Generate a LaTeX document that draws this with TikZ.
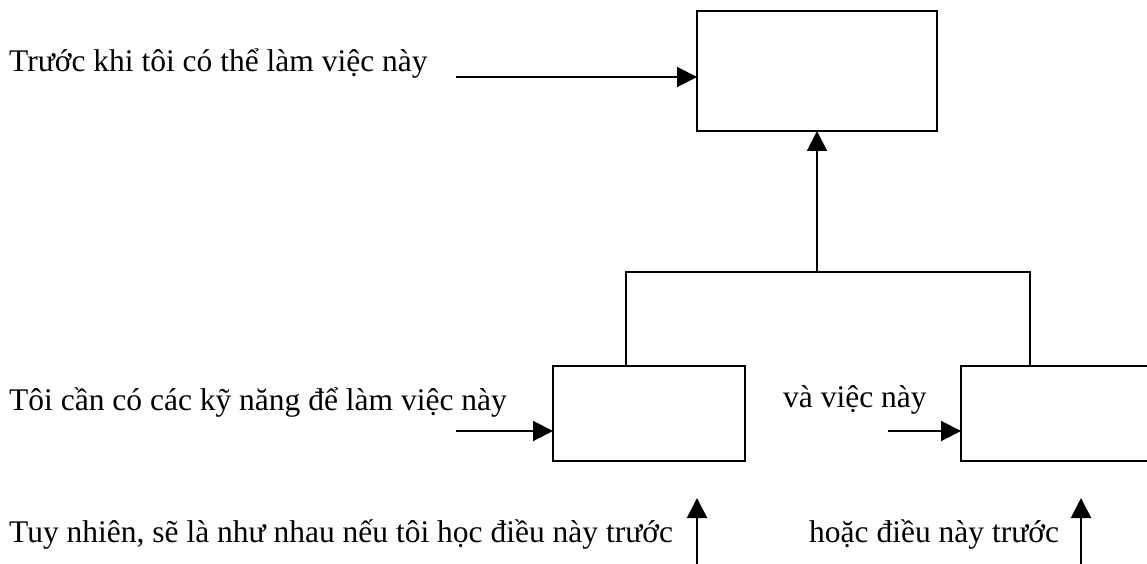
\documentclass[tikz,border=0pt]{standalone}
\usepackage{fontspec}
\setmainfont{Liberation Serif}
\usetikzlibrary{arrows.meta}
\begin{document}
\begin{tikzpicture}[x=1pt,y=-1pt,
  box/.style={draw, line width=2pt, inner sep=0pt, outer sep=0pt, anchor=north west},
  smallbox/.style={box, minimum width=192pt, minimum height=95pt},
  lbl/.style={anchor=base west, inner sep=0pt, font=\fontsize{31.5}{36}\selectfont},
  conn/.style={line width=2pt},
  arr/.style={conn, -{Triangle[length=20pt,width=20pt]}}]
\useasboundingbox (0,0) rectangle (1147,564);
\clip (0,0) rectangle (1147,564);

% boxes
\node[box, minimum width=240pt, minimum height=120pt] (top) at (697,11) {};
\node[smallbox] (left) at (553,366) {};
\node[smallbox] (right) at (961,366) {};

% texts
\node[lbl] (t1) at (9,72) {Trước khi tôi có thể làm việc này};
\node[lbl] (t2) at (9,410) {Tôi cần có các kỹ năng để làm việc này};
\node[lbl] (t3) at (783,407) {và việc này};
\node[lbl] (t4) at (9,542) {Tuy nhiên, sẽ là như nhau nếu tôi học điều này trước};
\node[lbl] (t5) at (809,542) {hoặc điều này trước};

% free ends of the arrows
\coordinate (a1) at (456,77);
\coordinate (a2) at (456,431);
\coordinate (a3) at (888,431);
\coordinate (b1) at (697,564);
\coordinate (b1t) at (697,498);
\coordinate (b2) at (1081,564);
\coordinate (b2t) at (1081,498);

% junction of the two lower boxes
\coordinate (j) at (817,272);
\coordinate (jl) at (626,272);
\coordinate (jr) at (1030,272);

\draw[arr] (a1) -- (a1 -| top.west);
\draw[arr] (a2) -- (a2 -| left.west);
\draw[arr] (a3) -- (a3 -| right.west);
\draw[arr] (b1) -- (b1t);
\draw[arr] (b2) -- (b2t);

\draw[arr] (j) -- (j |- top.south);
\draw[conn] (jl |- left.north) -- (jl) -- (jr) -- (jr |- right.north);
\end{tikzpicture}
\end{document}
